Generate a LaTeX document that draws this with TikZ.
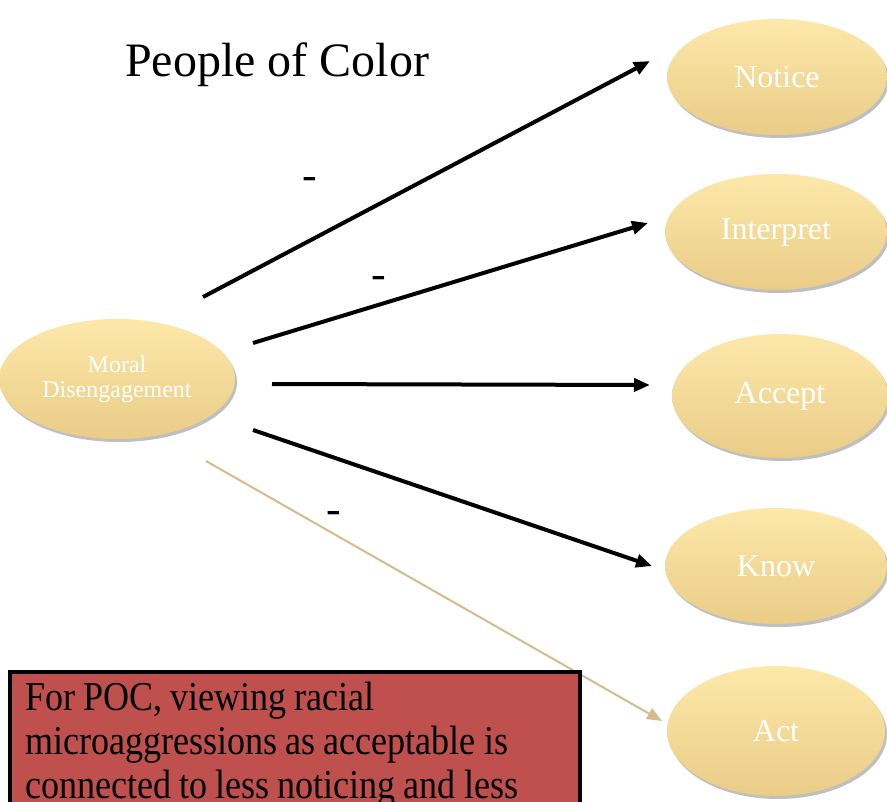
\documentclass[tikz,border=0pt]{standalone}
\usepackage{fontspec}
\setmainfont{Liberation Serif}
\newfontfamily\narrowserif[FakeStretch=0.88]{Liberation Serif}
\usetikzlibrary{arrows.meta,shadows,shapes.geometric}
\definecolor{ellTop}{RGB}{253,232,170}
\definecolor{ellBot}{RGB}{234,204,135}
\definecolor{boxRed}{RGB}{192,80,77}
\definecolor{tanLine}{RGB}{212,188,140}
\newcommand{\tightspace}{\spaceskip=8pt\relax}
\tikzset{
  oval/.style={ellipse, top color=ellTop, bottom color=ellBot, draw=none,
    drop shadow={shadow xshift=2pt, shadow yshift=-3pt, opacity=0.25, fill=black},
    text=white, align=center, inner sep=0pt},
  bigoval/.style={oval, font=\fontsize{32}{32}\selectfont},
  blackarrow/.style={line width=4pt, -{Triangle[length=16pt,width=13pt]}},
  tanarrow/.style={draw=tanLine, line width=2pt, -{Triangle[length=15pt,width=12pt]}},
  minuslabel/.style={font=\fontsize{44}{44}\selectfont, anchor=base, inner sep=0pt}
}
\begin{document}
\begin{tikzpicture}[x=1pt,y=-1pt]
\useasboundingbox (0,0) rectangle (887,802);
\clip (0,0) rectangle (887,802);
\fill[white] (0,0) rectangle (887,802);

\node[font=\fontsize{48}{48}\selectfont, anchor=base] (title) at (277,77) {People of Color};

\node[oval, minimum width=236pt, minimum height=120pt, font=\fontsize{24}{25}\selectfont] (md) at (117,379) {Moral\\Disengagement};
\node[bigoval, minimum width=220pt, minimum height=116pt] (notice) at (777,77) {Notice};
\node[bigoval, minimum width=222pt, minimum height=116pt] (interpret) at (776,232) {Interpret};
\node[bigoval, minimum width=216pt, minimum height=124pt] (accept) at (780,396) {Accept};
\node[bigoval, minimum width=222pt, minimum height=116pt] (know) at (776,566) {Know};
\node[bigoval, minimum width=218pt, minimum height=130pt] (act) at (776,731) {Act};

\coordinate (s1) at (203,297);
\coordinate (e1) at (650,61);
\coordinate (s2) at (253,343);
\coordinate (e2) at (648,223);
\coordinate (s3) at (272,384);
\coordinate (e3) at (650,385);
\coordinate (s4) at (253,430);
\coordinate (e4) at (652,566);
\coordinate (s5) at (206,461);
\coordinate (e5) at (662,721);

\draw[blackarrow] (s1) -- (e1);
\draw[blackarrow] (s2) -- (e2);
\draw[blackarrow] (s3) -- (e3);
\draw[blackarrow] (s4) -- (e4);
\draw[tanarrow] (s5) -- (e5);

\node[minuslabel] (m1) at (310,190) {-};
\node[minuslabel] (m2) at (379,289) {-};
\node[minuslabel] (m3) at (334,523) {-};

\draw[fill=boxRed, draw=black, line width=4pt] (10,672) rectangle (580,840);
\node[anchor=north west, align=left, text width=555pt, inner sep=0pt,
  font=\narrowserif\fontsize{41}{44}\selectfont] (note) at (25,682)
  {\tightspace For POC, viewing racial\\microaggressions as acceptable is\\connected to less noticing and less};
\end{tikzpicture}
\end{document}
